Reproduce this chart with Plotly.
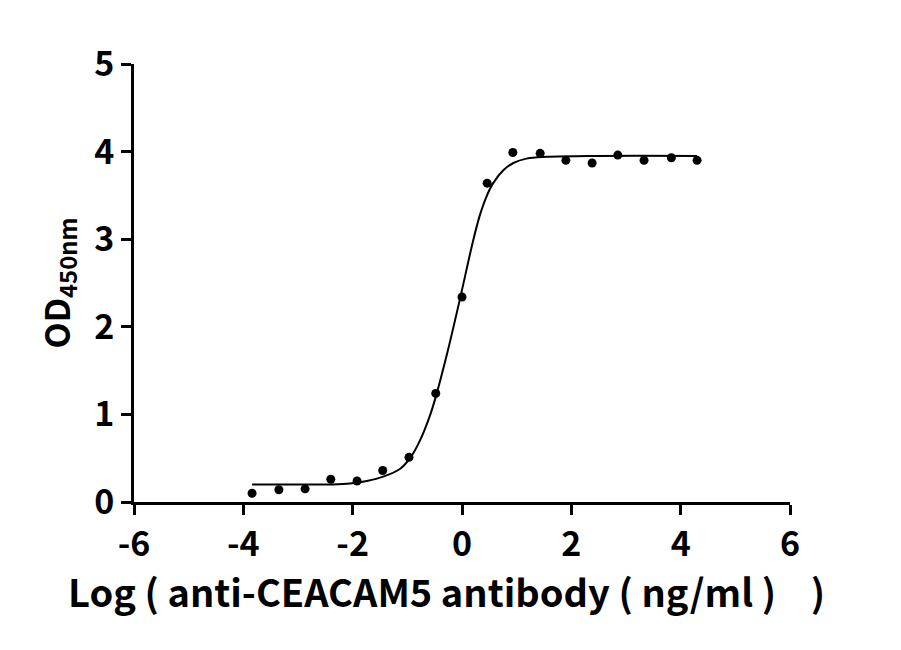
import plotly.graph_objects as go

# measured points (log concentration, OD450)
log_conc = [-3.84, -3.35, -2.87, -2.40, -1.92, -1.45, -0.97, -0.48, 0.00,
            0.46, 0.93, 1.43, 1.90, 2.38, 2.85, 3.33, 3.83, 4.30]
od450 = [0.10, 0.14, 0.15, 0.26, 0.24, 0.36, 0.51, 1.24, 2.34,
         3.64, 3.99, 3.98, 3.90, 3.87, 3.96, 3.90, 3.93, 3.90]

# fitted curve
curve_x = [-3.84, -3.0, -2.4, -2.05, -1.74, -1.44, -1.13, -0.95, -0.77, -0.59,
           -0.48, -0.27, -0.04, 0.21, 0.33, 0.45, 0.57, 0.76, 0.94, 1.18,
           1.55, 2.5, 4.30]
curve_y = [0.20, 0.20, 0.20, 0.21, 0.24, 0.29, 0.38, 0.50, 0.70, 0.98,
           1.20, 1.70, 2.31, 3.00, 3.28, 3.49, 3.64, 3.79, 3.87, 3.92,
           3.94, 3.95, 3.95]

x_ticks = [-6, -4, -2, 0, 2, 4, 6]
y_ticks = [0, 1, 2, 3, 4, 5]
x_title = "Log ( anti-CEACAM5 antibody ( ng/ml )    )"
y_title = "OD<sub>450nm</sub>"

FONT = "Noto Sans CJK SC"

fig = go.Figure()
fig.add_trace(go.Scatter(x=curve_x, y=curve_y, mode="lines",
                         line=dict(color="black", width=2, shape="spline", smoothing=1),
                         hoverinfo="skip", showlegend=False))
fig.add_trace(go.Scatter(x=log_conc, y=od450, mode="markers",
                         marker=dict(color="black", size=9, symbol="circle"),
                         showlegend=False))

axis_common = dict(showgrid=False, zeroline=False, showline=True, linecolor="black",
                   linewidth=3, ticks="outside", ticklen=10, tickwidth=3, tickcolor="black",
                   tickfont=dict(family=FONT, size=34, color="black", weight="bold"))

# page body has an 8px margin, so the figure is 8px smaller than the window
fig.update_layout(
    width=893, height=642,
    margin=dict(l=126, r=111, t=56, b=148),
    paper_bgcolor="white", plot_bgcolor="white",
    xaxis=dict(range=[-6, 6], tickvals=x_ticks, ticktext=[str(v) for v in x_ticks],
               **axis_common),
    yaxis=dict(range=[0, 5], tickvals=y_ticks, ticktext=[str(v) for v in y_ticks],
               title=dict(text=y_title,
                          font=dict(family=FONT, size=34, color="black", weight="bold"),
                          standoff=14),
               **axis_common),
    annotations=[dict(text=x_title, xref="paper", yref="paper", x=0.477, y=-0.202,
                      xanchor="center", yanchor="middle", showarrow=False,
                      font=dict(family=FONT, size=38, color="black", weight="bold"))],
)

fig.write_html("out.html")
